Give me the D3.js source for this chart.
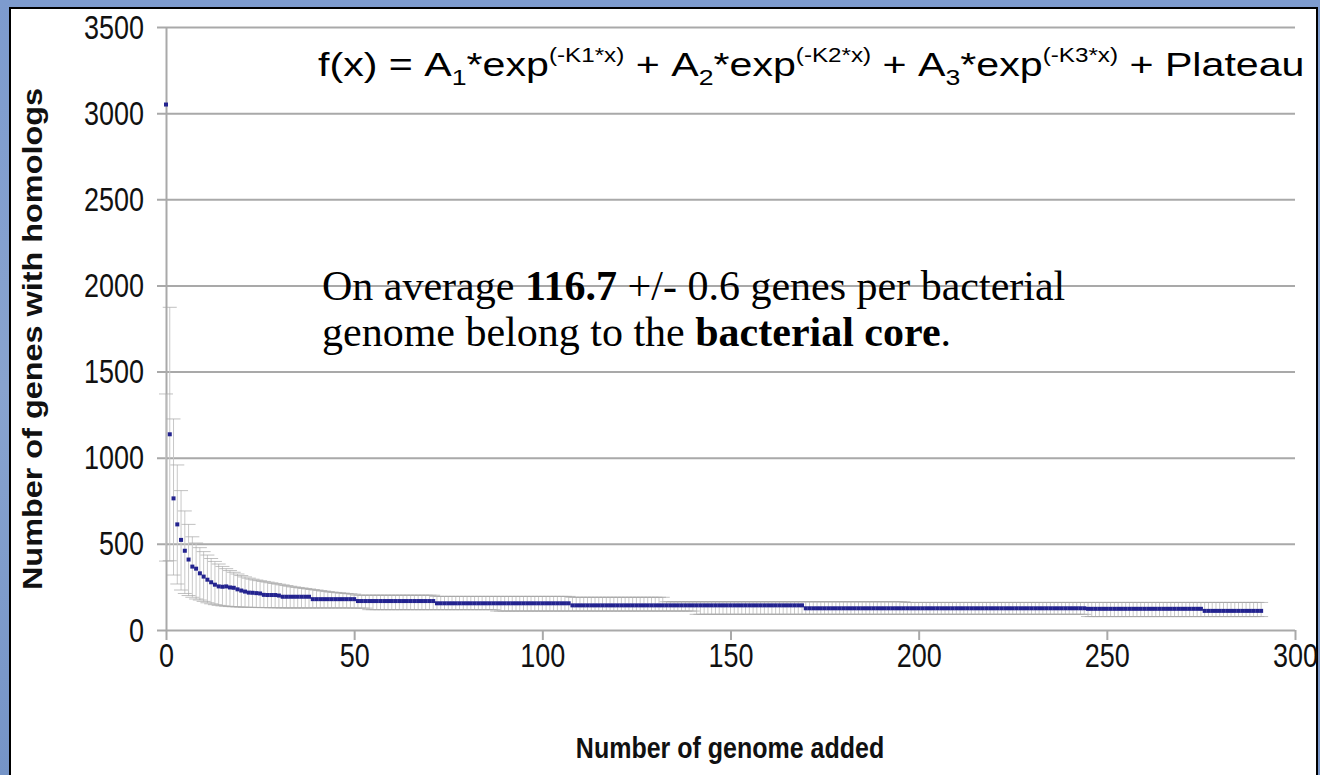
<!DOCTYPE html>
<html>
<head>
<meta charset="utf-8">
<script src="https://cdn.jsdelivr.net/npm/d3@7"></script>
<style>
  html, body { margin: 0; padding: 0; background: #7f9dcc; overflow: hidden; }
  svg { display: block; }
</style>
</head>
<body>
<svg id="canvas"></svg>
<script>
const X_TICKS = [0, 50, 100, 150, 200, 250, 300];
const Y_TICKS = [0, 500, 1000, 1500, 2000, 2500, 3000, 3500];
const X_TITLE = "Number of genome added";
const Y_TITLE = "Number of genes with homologs";

// mean number of genes with homologs, one value per genome added (x = 0..291)
const MEAN = [
    3050, 1136, 764, 613, 523, 460, 409, 368, 356, 329,
    310, 292, 277, 263, 253, 251, 253, 247, 245, 236,
    229, 223, 217, 216, 214, 212, 204, 203, 203, 203,
    200, 193, 193, 193, 193, 193, 193, 193, 193, 179,
    179, 179, 179, 179, 179, 179, 179, 179, 179, 179,
    179, 168, 168, 168, 168, 168, 168, 168, 168, 168,
    168, 168, 168, 168, 168, 168, 168, 168, 168, 168,
    168, 168, 155, 155, 155, 155, 155, 155, 155, 155,
    155, 155, 155, 155, 155, 155, 155, 155, 155, 155,
    155, 155, 155, 155, 155, 155, 155, 155, 155, 155,
    155, 155, 155, 155, 155, 155, 155, 155, 143, 143,
    143, 143, 143, 143, 143, 143, 143, 143, 143, 143,
    143, 143, 143, 143, 143, 143, 143, 143, 143, 143,
    143, 143, 143, 143, 143, 143, 143, 143, 143, 143,
    143, 143, 143, 143, 143, 143, 143, 143, 143, 143,
    143, 143, 143, 143, 143, 143, 143, 143, 143, 143,
    143, 143, 143, 143, 143, 143, 143, 143, 143, 143,
    126, 126, 126, 126, 126, 126, 126, 126, 126, 126,
    126, 126, 126, 126, 126, 126, 126, 126, 126, 126,
    126, 126, 126, 126, 126, 126, 126, 126, 126, 126,
    126, 126, 126, 126, 126, 126, 126, 126, 126, 126,
    126, 126, 126, 126, 126, 126, 126, 126, 126, 126,
    126, 126, 126, 126, 126, 126, 126, 126, 126, 126,
    126, 126, 126, 126, 126, 126, 126, 126, 126, 126,
    126, 126, 126, 126, 126, 123, 123, 123, 123, 123,
    123, 123, 123, 123, 123, 123, 123, 123, 123, 123,
    123, 123, 123, 123, 123, 123, 123, 123, 123, 123,
    123, 123, 123, 123, 123, 123, 111, 111, 111, 111,
    111, 111, 111, 111, 111, 111, 111, 111, 111, 111,
    111, 111
];

// top of each error bar
const UPPER = [
    1370, 1873, 1225, 958, 809, 691, 613, 541, 505, 478,
    455, 435, 415, 398, 383, 369, 356, 345, 335, 325,
    316, 308, 301, 295, 290, 286, 282, 278, 274, 270,
    266, 262, 258, 254, 250, 247, 244, 241, 238, 235,
    232, 229, 226, 223, 220, 218, 216, 214, 212, 210,
    208, 202, 202, 202, 202, 202, 202, 202, 202, 202,
    202, 202, 202, 202, 202, 202, 202, 202, 202, 202,
    202, 202, 195, 195, 195, 195, 195, 195, 195, 195,
    195, 195, 195, 195, 195, 195, 195, 195, 195, 195,
    195, 195, 195, 195, 195, 195, 195, 195, 195, 195,
    195, 195, 195, 195, 195, 195, 195, 195, 190, 190,
    190, 190, 190, 190, 190, 190, 190, 190, 190, 190,
    190, 190, 190, 190, 190, 190, 190, 190, 190, 190,
    190, 190, 190, 164, 164, 164, 164, 164, 164, 164,
    164, 164, 164, 164, 164, 164, 164, 164, 164, 164,
    164, 164, 164, 164, 164, 164, 164, 164, 164, 164,
    164, 164, 164, 164, 164, 164, 164, 164, 164, 164,
    164, 164, 164, 164, 164, 164, 164, 164, 164, 164,
    164, 164, 164, 164, 164, 164, 164, 164, 164, 164,
    164, 164, 164, 164, 164, 164, 164, 160, 160, 160,
    160, 160, 160, 160, 160, 160, 160, 160, 160, 160,
    160, 160, 160, 160, 160, 160, 160, 160, 160, 160,
    160, 160, 160, 160, 160, 160, 160, 160, 160, 160,
    160, 160, 160, 160, 160, 160, 160, 160, 160, 160,
    160, 160, 160, 160, 160, 160, 160, 160, 160, 160,
    160, 160, 160, 160, 160, 160, 160, 160, 160, 160,
    160, 160, 160, 160, 160, 160, 160, 160, 160, 160,
    160, 160, 160, 160, 160, 160, 160, 160, 160, 160,
    160, 160, 160, 160, 160, 160, 160, 160, 160, 160,
    160, 160
];

// bottom of each error bar
const LOWER = [
    400, 402, 319, 267, 232, 212, 200, 190, 180, 174,
    166, 158, 152, 147, 143, 140, 138, 136, 135, 134,
    133, 132, 132, 131, 131, 130, 130, 130, 129, 129,
    129, 128, 128, 128, 128, 128, 128, 128, 128, 128,
    128, 128, 128, 128, 128, 128, 128, 128, 128, 128,
    127, 127, 127, 127, 118, 118, 118, 118, 118, 118,
    118, 118, 118, 118, 118, 118, 118, 118, 118, 118,
    118, 118, 118, 118, 118, 118, 118, 118, 118, 118,
    118, 118, 118, 118, 118, 118, 118, 118, 110, 110,
    110, 110, 110, 110, 110, 110, 110, 110, 110, 110,
    110, 110, 110, 110, 110, 110, 110, 110, 110, 110,
    110, 110, 110, 110, 110, 110, 110, 110, 110, 110,
    110, 110, 110, 110, 110, 110, 110, 110, 110, 110,
    110, 110, 110, 110, 110, 110, 110, 110, 110, 110,
    110, 91, 91, 91, 91, 91, 91, 91, 91, 91,
    91, 91, 91, 91, 91, 91, 91, 91, 91, 91,
    91, 91, 91, 91, 91, 91, 91, 91, 91, 91,
    91, 91, 91, 91, 91, 91, 91, 91, 91, 91,
    91, 91, 91, 91, 91, 91, 91, 91, 91, 91,
    91, 91, 91, 91, 91, 91, 91, 91, 91, 91,
    91, 91, 91, 91, 91, 91, 91, 91, 91, 91,
    91, 91, 91, 91, 91, 91, 91, 91, 91, 91,
    91, 91, 91, 91, 91, 91, 91, 91, 91, 91,
    91, 91, 91, 91, 91, 91, 91, 91, 91, 91,
    91, 91, 91, 91, 91, 78, 78, 78, 78, 78,
    78, 78, 78, 78, 78, 78, 78, 78, 78, 78,
    78, 78, 78, 78, 78, 78, 78, 78, 78, 78,
    78, 78, 78, 78, 78, 78, 78, 78, 78, 78,
    78, 78, 78, 78, 78, 78, 78, 78, 78, 78,
    78, 78
];

const width = 1320;
const height = 775;
const plotLeft = 166;
const plotRight = 1295;
const plotTop = 27;
const plotBottom = 630;
const gridLeft = 157;
const sans = "'Liberation Sans', Arial, sans-serif";
const serif = "'Liberation Serif', 'Times New Roman', serif";
const stretch = 1.2; // the chart texts look vertically stretched

const canvas = d3.select("#canvas")
    .attr("width", width)
    .attr("height", height);

//Slide background and white panel
const defs = canvas.append("defs");
const grad = defs.append("linearGradient")
    .attr("id", "bg")
    .attr("x1", 0).attr("y1", 0)
    .attr("x2", 0).attr("y2", 1);
grad.append("stop").attr("offset", "0%").attr("stop-color", "#7d9bce");
grad.append("stop").attr("offset", "50%").attr("stop-color", "#88a3cf");
grad.append("stop").attr("offset", "100%").attr("stop-color", "#7594c7");

canvas.append("rect")
    .attr("width", width)
    .attr("height", height)
    .attr("fill", "url(#bg)");

canvas.append("rect")
    .attr("x", 10)
    .attr("y", 8)
    .attr("width", 1307)
    .attr("height", 800)
    .attr("fill", "#fff")
    .attr("stroke", "#000")
    .attr("stroke-width", 2);

//Scales
const xScale = d3.scaleLinear()
    .domain([0, 300])
    .range([plotLeft, plotRight]);
const yScale = d3.scaleLinear()
    .domain([0, 3500])
    .range([plotBottom, plotTop]);

//Horizontal gridlines
canvas.append("g")
    .attr("transform", `translate(${gridLeft}, 0)`)
    .call(d3.axisLeft(yScale).tickValues(Y_TICKS).tickSize(-(plotRight - gridLeft)).tickFormat(""))
    .call(g => g.select(".domain").remove())
    .call(g => g.selectAll("line").attr("stroke", "#a9a9a9").attr("stroke-width", 2));

//Y axis line
canvas.append("g")
    .attr("transform", `translate(${plotLeft}, 0)`)
    .call(d3.axisLeft(yScale).tickValues([]).tickSizeOuter(0))
    .call(g => g.select(".domain").attr("stroke", "#a9a9a9").attr("stroke-width", 2));

//Y tick labels
canvas.append("g")
    .attr("transform", `translate(${gridLeft}, 0)`)
    .call(d3.axisLeft(yScale).tickValues(Y_TICKS).tickSize(0).tickFormat(d3.format("d")))
    .call(g => g.select(".domain").remove())
    .call(g => g.selectAll("text")
        .attr("x", null)
        .attr("dy", null)
        .attr("transform", `translate(-13, 11) scale(1, ${stretch})`)
        .attr("fill", "#111")
        .style("font-family", sans)
        .style("font-size", "27px"));

//X axis ticks and labels
canvas.append("g")
    .attr("transform", `translate(0, ${plotBottom})`)
    .call(d3.axisBottom(xScale).tickValues(X_TICKS).tickSize(10))
    .call(g => g.select(".domain").remove())
    .call(g => g.selectAll("line").attr("stroke", "#a9a9a9").attr("stroke-width", 2))
    .call(g => g.selectAll("text")
        .attr("y", null)
        .attr("dy", null)
        .attr("transform", `translate(0, 37) scale(1, ${stretch})`)
        .attr("fill", "#111")
        .style("font-family", sans)
        .style("font-size", "27px"));

//Error bars
const bars = canvas.append("g").attr("class", "error-bars");
bars.selectAll(".err")
    .data(MEAN)
    .enter()
    .append("line")
    .attr("class", "err")
    .attr("x1", (d, i) => xScale(i))
    .attr("x2", (d, i) => xScale(i))
    .attr("y1", (d, i) => yScale(UPPER[i]))
    .attr("y2", (d, i) => yScale(LOWER[i]))
    .attr("stroke", "#c8c8c8")
    .attr("stroke-width", 1);

const capHalf = 7;
["top", "bottom"].forEach(side => {
    bars.selectAll(".cap-" + side)
        .data(MEAN)
        .enter()
        .append("line")
        .attr("class", "cap-" + side)
        .attr("x1", (d, i) => xScale(i) - capHalf)
        .attr("x2", (d, i) => xScale(i) + capHalf)
        .attr("y1", (d, i) => yScale(side === "top" ? UPPER[i] : LOWER[i]))
        .attr("y2", (d, i) => yScale(side === "top" ? UPPER[i] : LOWER[i]))
        .attr("stroke", "#a6a6a6")
        .attr("stroke-opacity", 0.7)
        .attr("stroke-width", 1);
});

//Data points
canvas.append("g")
    .selectAll("rect")
    .data(MEAN)
    .enter()
    .append("rect")
    .attr("x", (d, i) => xScale(i) - 2)
    .attr("y", d => yScale(d) - 2)
    .attr("width", 4)
    .attr("height", 4)
    .attr("fill", "#23238f");

//Axis titles
canvas.append("text")
    .attr("transform", `translate(42, 339) rotate(-90) scale(${stretch}, 1)`)
    .attr("text-anchor", "middle")
    .style("font-family", sans)
    .style("font-weight", "bold")
    .style("font-size", "27px")
    .attr("fill", "#111")
    .text(Y_TITLE);

canvas.append("text")
    .attr("transform", `translate(730, 758) scale(1, ${stretch})`)
    .attr("text-anchor", "middle")
    .style("font-family", sans)
    .style("font-weight", "bold")
    .style("font-size", "25px")
    .attr("fill", "#111")
    .text(X_TITLE);

//Formula
const formula = canvas.append("text")
    .attr("x", 318)
    .attr("y", 76)
    .style("font-family", sans)
    .style("font-size", "34px")
    .attr("fill", "#000");

function term(n, last) {
    formula.append("tspan").text("A");
    formula.append("tspan").attr("dy", 9).style("font-size", "22px").text(n);
    formula.append("tspan").attr("dy", -9).text("*exp");
    formula.append("tspan").attr("dy", -14).style("font-size", "20px").text(`(-K${n}*x)`);
    formula.append("tspan").attr("dy", 14).text(last ? " + Plateau" : " + ");
}
formula.append("tspan").text("f(x) = ");
term(1, false);
term(2, false);
term(3, true);

const fw = formula.node().getBBox().width;
formula.attr("transform", `translate(318, 0) scale(${980 / fw}, 1) translate(-318, 0)`);

//Annotation
const note = canvas.append("text")
    .style("font-family", serif)
    .style("font-size", "42px")
    .attr("fill", "#000");
const line1 = note.append("tspan").attr("x", 322).attr("y", 300);
line1.append("tspan").text("On average ");
line1.append("tspan").style("font-weight", "bold").text("116.7");
line1.append("tspan").text(" +/- 0.6 genes per bacterial");
const line2 = note.append("tspan").attr("x", 322).attr("y", 346);
line2.append("tspan").text("genome belong to the ");
line2.append("tspan").style("font-weight", "bold").text("bacterial core");
line2.append("tspan").text(".");
</script>
</body>
</html>
